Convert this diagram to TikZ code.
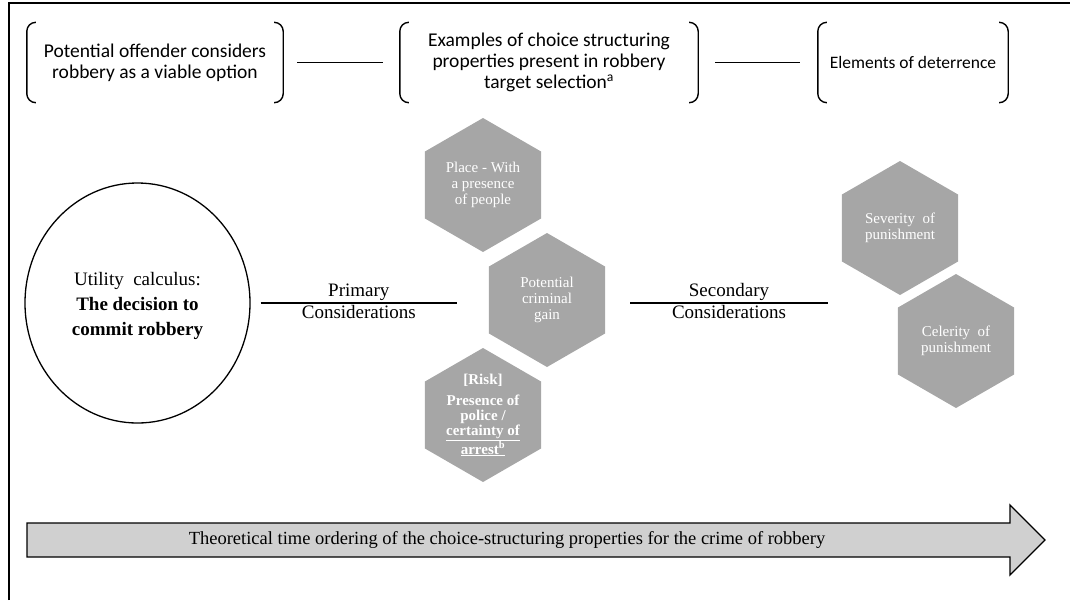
\documentclass[tikz,border=0pt]{standalone}
\usepackage{fontspec}
\setmainfont{Liberation Serif}
\newfontfamily\calibrifont{Carlito}
\usetikzlibrary{shapes.geometric}
\definecolor{hexgray}{HTML}{A6A6A6}
\definecolor{arrowgray}{HTML}{D0D0D0}
\begin{document}
\begin{tikzpicture}[x=1pt,y=-1pt,
  frame/.style={line width=1.3pt},
  brk/.style={line width=1.4pt, rounded corners=9pt},
  topbox/.style={minimum height=80pt, inner sep=0pt, align=center,
    font=\calibrifont\fontsize{19.5pt}{21pt}\selectfont},
  link/.style={line width=1.4pt},
  hex/.style={regular polygon, regular polygon sides=6, shape border rotate=30,
    minimum size=134pt, inner sep=0pt, fill=hexgray, draw=none},
  hextext/.style={text=white, align=center, inner sep=0pt,
    font=\fontsize{15pt}{16pt}\selectfont},
  conlabel/.style={inner sep=2pt, font=\fontsize{19pt}{21pt}\selectfont}
]
\useasboundingbox (0,0) rectangle (1070,600);
% frame (top and left edges)
\draw[frame] (9,600) -- (9,3) -- (1070,3);

% top row
\node[topbox, minimum width=256pt] (t1) at (155,62.5) {Potential offender considers\\robbery as a viable option};
\node[topbox, minimum width=298pt] (t2) at (549,62.5) {Examples of choice structuring\\properties present in robbery\\target selection\textsuperscript{a}};
\node[topbox, minimum width=190pt, font=\calibrifont\fontsize{17.5pt}{21pt}\selectfont] (t3) at (913,62.5) {Elements of deterrence};
\foreach \n in {t1,t2,t3}{
  \draw[brk] ([xshift=8pt]\n.north west) -- (\n.north west) -- (\n.south west) -- ([xshift=8pt]\n.south west);
  \draw[brk] ([xshift=-8pt]\n.north east) -- (\n.north east) -- (\n.south east) -- ([xshift=-8pt]\n.south east);
}
\draw[link] ([xshift=14pt]t1.east) -- ([xshift=-17pt]t2.west);
\draw[link] ([xshift=17pt]t2.east) -- ([xshift=-18pt]t3.west);

% decision ellipse
\node[ellipse, draw, line width=1.3pt, minimum width=225pt, minimum height=240pt] (circ) at (137.5,303) {};
\node[align=center, inner sep=0pt, font=\fontsize{19pt}{25pt}\selectfont] (circt) at ([yshift=-3pt]circ.center)
  {Utility\ \ calculus:\\\textbf{The decision to}\\\textbf{commit robbery}};

% hexagons
\node[hex] (h1) at (483,185) {};
\node[hex] (h2) at (547,300) {};
\node[hex] (h3) at (483,415) {};
\node[hex] (h4) at (900,228) {};
\node[hex] (h5) at (956,341) {};
\node[hextext] (h1t) at (h1) {Place - With\\a presence\\of people};
\node[hextext] (h2t) at (h2) {Potential\\criminal\\gain};
\node[hextext, font=\bfseries\fontsize{15pt}{15pt}\selectfont] (h3t) at (h3)
  {[Risk]\\[6pt]Presence of\\police /\\\underline{certainty of}\\\underline{arrest\textsuperscript{b}}};
\node[hextext] (h4t) at (h4) {Severity\ \ of\\punishment};
\node[hextext] (h5t) at (h5) {Celerity\ \ of\\punishment};

% considerations
\draw[link] ([xshift=10pt]circ.east) -- ([xshift=-90pt]circ.east -| h2.center)
  node[midway, above, conlabel] (prim) {Primary}
  node[midway, below, conlabel] (primc) {Considerations};
\draw[link] ([xshift=83pt]circ.east -| h2.center) -- ([xshift=-72pt]circ.east -| h4.center)
  node[midway, above, conlabel] (sec) {Secondary}
  node[midway, below, conlabel] (secc) {Considerations};

% time arrow
\draw[line width=1.3pt, fill=arrowgray] (27,523) -- (1010,523) -- (1010,505) -- (1045,540)
  -- (1010,575) -- (1010,557) -- (27,557) -- cycle;
\node[font=\fontsize{18.5pt}{20pt}\selectfont, inner sep=0pt] (arrtext) at (507,540)
  {Theoretical time ordering of the choice-structuring properties for the crime of robbery};
\end{tikzpicture}
\end{document}
